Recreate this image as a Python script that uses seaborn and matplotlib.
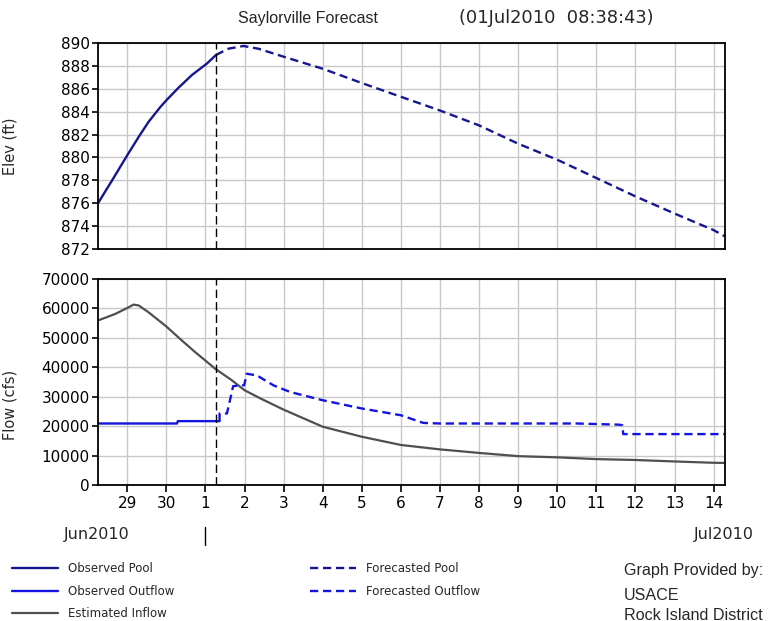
import pandas as pd
import numpy as np
import matplotlib
matplotlib.use("Agg")
import matplotlib.pyplot as plt
import matplotlib.dates as mdates
import matplotlib.transforms as mtransforms
from matplotlib.lines import Line2D
import seaborn as sns

# --- Donnees ---
obs_pool_time = ["2010-06-28 06:00", "2010-06-28 14:40", "2010-06-29 00:00", "2010-06-29 07:00",
                 "2010-06-29 13:00", "2010-06-29 20:15", "2010-06-30 00:00", "2010-06-30 07:30",
                 "2010-06-30 15:40", "2010-07-01 00:50", "2010-07-01 06:25"]
obs_pool_elev = [876.0, 878.0, 880.2, 881.8, 883.1, 884.4, 885.0, 886.1, 887.2, 888.2, 888.95]

fc_pool_time = ["2010-07-01 06:25", "2010-07-01 14:00", "2010-07-01 23:20", "2010-07-02 08:30",
                "2010-07-03 00:00", "2010-07-04 00:00", "2010-07-05 00:00", "2010-07-06 00:00",
                "2010-07-07 00:00", "2010-07-08 00:00", "2010-07-09 00:00", "2010-07-10 00:00",
                "2010-07-11 00:00", "2010-07-12 00:00", "2010-07-13 00:00", "2010-07-14 00:00",
                "2010-07-14 07:00"]
fc_pool_elev = [888.95, 889.5, 889.74, 889.5, 888.8, 887.75, 886.5, 885.3, 884.1, 882.8,
                881.2, 879.8, 878.2, 876.6, 875.1, 873.65, 873.1]

inflow_time = ["2010-06-28 06:00", "2010-06-28 16:40", "2010-06-29 00:50", "2010-06-29 03:50",
               "2010-06-29 07:00", "2010-06-29 13:00", "2010-06-30 00:00", "2010-06-30 09:30",
               "2010-06-30 17:40", "2010-07-01 06:00", "2010-07-01 16:15", "2010-07-02 00:00",
               "2010-07-02 10:30", "2010-07-03 00:00", "2010-07-04 00:00", "2010-07-05 00:00",
               "2010-07-06 00:00", "2010-07-07 00:00", "2010-07-08 00:00", "2010-07-09 00:00",
               "2010-07-10 00:00", "2010-07-11 00:00", "2010-07-12 00:00", "2010-07-13 00:00",
               "2010-07-14 00:00", "2010-07-14 07:00"]
inflow_cfs = [55900, 58150, 60400, 61300, 61000, 58700, 53850, 49100, 45150, 39500, 35560,
              32200, 29200, 25600, 19800, 16400, 13600, 12100, 10900, 9800, 9400, 8800,
              8500, 8000, 7550, 7500]

obs_out_time = ["2010-06-28 06:00", "2010-06-30 06:30", "2010-06-30 07:00", "2010-07-01 08:38"]
obs_out_cfs = [20900, 20900, 21700, 21700]

fc_out_time = ["2010-07-01 08:38", "2010-07-01 08:40", "2010-07-01 13:10", "2010-07-01 17:00",
               "2010-07-01 23:45", "2010-07-02 01:20", "2010-07-02 07:30", "2010-07-02 17:45",
               "2010-07-03 04:00", "2010-07-04 00:00", "2010-07-05 00:00", "2010-07-06 00:00",
               "2010-07-06 13:45", "2010-07-07 00:00", "2010-07-10 12:00", "2010-07-11 14:00",
               "2010-07-11 16:00", "2010-07-11 16:30", "2010-07-14 07:00"]
fc_out_cfs = [21700, 24300, 24300, 33600, 33900, 37800, 37260, 33870, 31600, 28800, 26000,
              23700, 21100, 20900, 20900, 20500, 20300, 17300, 17300]

forecast_line = "2010-07-01 06:30"
x_start, x_end = "2010-06-28 06:00", "2010-07-14 07:00"

c_pool = "#16168f"
c_out = "#1414e0"
c_inflow = "#4f4f4f"
grid_c = "#c8c8c8"

sns.set_style("white")
plt.rcParams["font.family"] = ["DejaVu Sans"]

W, H = 776, 621
fig = plt.figure(figsize=(W / 100, H / 100), dpi=100)
ax1 = fig.add_axes([98 / W, 1 - 249 / H, 627 / W, 206 / H])
ax2 = fig.add_axes([98 / W, 1 - 485 / H, 627 / W, 206 / H])

dt = pd.to_datetime
lw = 1.7
dash = (0, (3.5, 2))

# Elevation
sns.lineplot(x=dt(obs_pool_time), y=obs_pool_elev, ax=ax1, color=c_pool, lw=lw,
             estimator=None, sort=False)
sns.lineplot(x=dt(fc_pool_time), y=fc_pool_elev, ax=ax1, color=c_pool, lw=lw,
             linestyle=dash, estimator=None, sort=False)

# Debits
sns.lineplot(x=dt(inflow_time), y=inflow_cfs, ax=ax2, color=c_inflow, lw=1.6,
             estimator=None, sort=False)
sns.lineplot(x=dt(obs_out_time), y=obs_out_cfs, ax=ax2, color=c_out, lw=lw,
             estimator=None, sort=False)
sns.lineplot(x=dt(fc_out_time), y=fc_out_cfs, ax=ax2, color=c_out, lw=lw,
             linestyle=dash, estimator=None, sort=False)

for ax in (ax1, ax2):
    ax.set_xlim(dt(x_start), dt(x_end))
    ax.xaxis.set_major_locator(mdates.DayLocator())
    ax.xaxis.set_major_formatter(mdates.DateFormatter("%-d"))
    ax.grid(True, color=grid_c, lw=1.0)
    ax.set_axisbelow(True)
    for s in ax.spines.values():
        s.set_color("black")
        s.set_linewidth(1.3)
    ax.axvline(dt(forecast_line), color="black", lw=1.0, linestyle=(0, (6, 3)))
    ax.tick_params(axis="y", length=4, width=1.2, pad=2, labelsize=11, left=True,
                   colors="black")
    ax.set_xlabel("")

ax1.set_ylim(872, 890)
ax1.set_yticks(np.arange(872, 891, 2))
ax1.tick_params(axis="x", length=0, labelbottom=False)
ax1.set_ylabel("Elev (ft)", fontsize=10.5)
ax1.yaxis.set_label_coords(-0.128, 0.5)

ax2.set_ylim(0, 70000)
ax2.set_yticks(np.arange(0, 70001, 10000))
ax2.tick_params(axis="x", length=5, width=1.2, pad=3, labelsize=11, bottom=True,
                colors="black")
ax2.set_ylabel("Flow (cfs)", fontsize=10.5)
ax2.yaxis.set_label_coords(-0.128, 0.39)

# Mois sous l'axe
fig.text(97 / W, 1 - 535 / H, "Jun2010", ha="center", va="center", fontsize=11.5)
fig.text(724 / W, 1 - 535 / H, "Jul2010", ha="center", va="center", fontsize=11.5)
blend = mtransforms.blended_transform_factory(ax2.transData, fig.transFigure)
jul1 = mdates.date2num(dt("2010-07-01 00:00"))
fig.add_artist(Line2D([jul1, jul1], [1 - 527 / H, 1 - 545 / H], transform=blend,
                      color="black", lw=1.0))

# Titre
fig.text(238 / W, 1 - 18 / H, "Saylorville Forecast", ha="left", va="center",
         fontsize=11.5, family=["Liberation Sans", "DejaVu Sans"])
fig.text(459 / W, 1 - 18 / H, "(01Jul2010  08:38:43)", ha="left", va="center",
         fontsize=12.9)

# Legende
leg_font = {"family": ["Liberation Sans Narrow", "DejaVu Sans"], "size": 8.5}
h1 = [Line2D([], [], color=c_pool, lw=lw),
      Line2D([], [], color=c_out, lw=lw),
      Line2D([], [], color=c_inflow, lw=1.6)]
h2 = [Line2D([], [], color=c_pool, lw=lw, linestyle=dash),
      Line2D([], [], color=c_out, lw=lw, linestyle=dash)]
common = dict(frameon=False, loc="upper left", borderpad=0, borderaxespad=0,
              handlelength=3.9, handletextpad=0.85, labelspacing=0.82, prop=leg_font)
fig.legend(h1, ["Observed Pool", "Observed Outflow", "Estimated Inflow"],
           bbox_to_anchor=(12 / W, 1 - 562 / H), **common)
fig.legend(h2, ["Forecasted Pool", "Forecasted Outflow"],
           bbox_to_anchor=(310 / W, 1 - 562 / H), **common)

for txt, y in [("Graph Provided by:", 571), ("USACE", 595), ("Rock Island District", 615)]:
    fig.text(624 / W, 1 - y / H, txt, ha="left", va="center", fontsize=11.6,
             family=["Liberation Sans", "DejaVu Sans"])

fig.savefig("out.png", dpi=100)
